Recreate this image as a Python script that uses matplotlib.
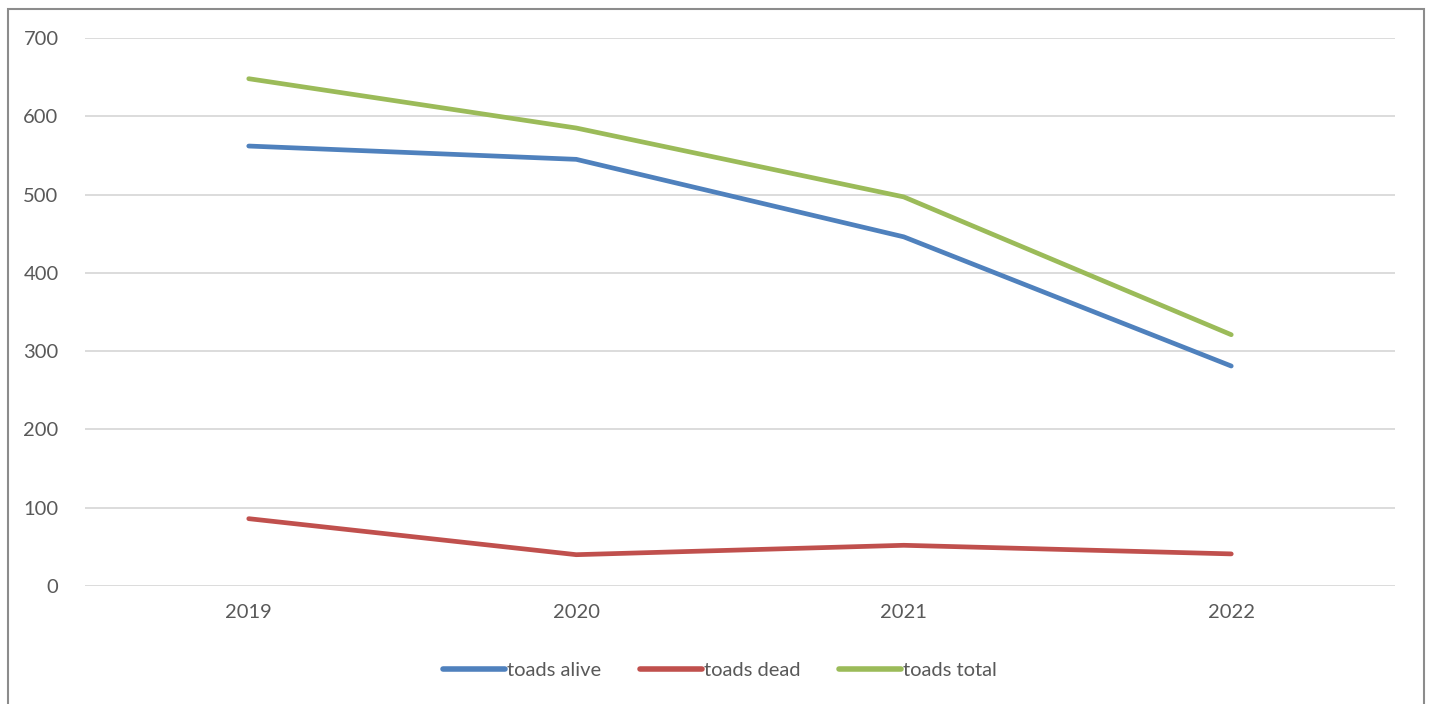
import matplotlib
matplotlib.use("Agg")
import matplotlib.pyplot as plt
from matplotlib.patches import Rectangle

years = ["2019", "2020", "2021", "2022"]
toads_alive = [562, 545, 446, 281]
toads_dead = [86, 40, 52, 41]
toads_total = [648, 585, 497, 321]

plt.rcParams['font.family'] = ['Lato', 'DejaVu Sans']

fig = plt.figure(figsize=(14.45, 7.04), dpi=100)
ax = fig.add_axes([85/1445, 1 - 586/704, (1395-85)/1445, (586-38)/704])

x = range(len(years))
ax.plot(x, toads_alive, color='#4F81BD', lw=3.4, solid_capstyle='round', label='toads alive')
ax.plot(x, toads_dead, color='#C0504D', lw=3.4, solid_capstyle='round', label='toads dead')
ax.plot(x, toads_total, color='#9BBB59', lw=3.4, solid_capstyle='round', label='toads total')

ax.set_xlim(-0.5, len(years) - 0.5)
ax.set_ylim(0, 700)
ax.set_yticks(range(0, 701, 100))
ax.set_xticks(list(x))
ax.set_xticklabels(years)
ax.grid(axis='y', color='#D9D9D9', lw=1.3)
ax.set_axisbelow(True)
for s in ax.spines.values():
    s.set_visible(False)
ax.tick_params(length=0, labelsize=14.5, colors='#595959')
ax.tick_params(axis='y', pad=19)
ax.tick_params(axis='x', pad=13)

leg = fig.legend(loc='center', bbox_to_anchor=(720/1445, 1 - 670/704), ncol=3,
                 frameon=False, fontsize=14.5, handlelength=3.1, handletextpad=0.1,
                 columnspacing=1.9)
for t in leg.get_texts():
    t.set_color('#595959')
for h in leg.get_lines():
    h.set_linewidth(4)

fig.patches.append(Rectangle((8/1445, -0.1), (1424-8)/1445, 1.1 - 9/704,
                             transform=fig.transFigure, fill=False,
                             edgecolor='#8C8C8C', lw=1.5, clip_on=False))

fig.savefig("out.png", dpi=100)
